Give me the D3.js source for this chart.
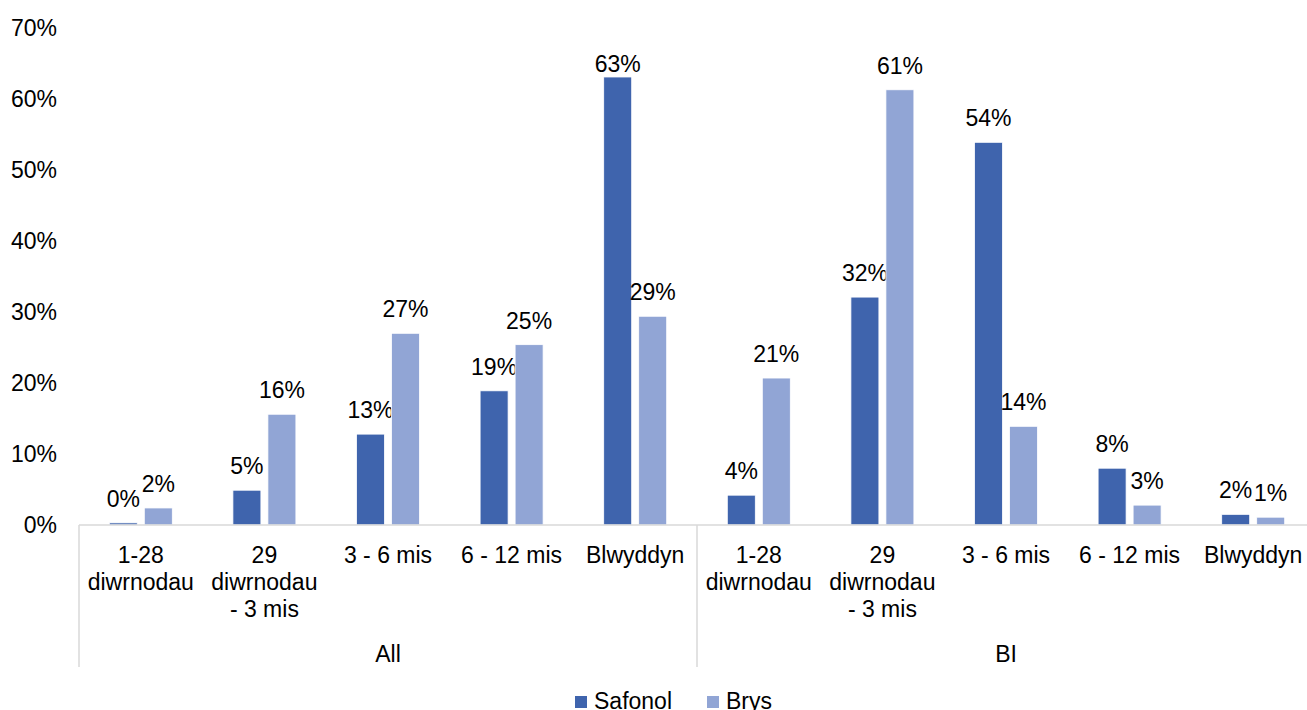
<!DOCTYPE html>
<html>
<head>
<meta charset="utf-8">
<script src="https://cdn.jsdelivr.net/npm/d3@7"></script>
<style>
  body { margin: 0; background: #fff; }
  text { font-family: "Liberation Sans", Arial, sans-serif; fill: #000; }
</style>
</head>
<body>
<script>
// data
const groups = ['All', 'BI'];
const periods = [['1-28', 'diwrnodau'], ['29', 'diwrnodau', '- 3 mis'], ['3 - 6 mis'], ['6 - 12 mis'], ['Blwyddyn']];
const seriesNames = ['Safonol', 'Brys'];
const safonol = [0.3, 4.9, 12.8, 18.9, 63.1, 4.2, 32.1, 53.9, 8.0, 1.5];
const brys = [2.4, 15.6, 27.0, 25.4, 29.4, 20.7, 61.3, 13.9, 2.8, 1.1];
const safonolLabels = ['0%', '5%', '13%', '19%', '63%', '4%', '32%', '54%', '8%', '2%'];
const brysLabels = ['2%', '16%', '27%', '25%', '29%', '21%', '61%', '14%', '3%', '1%'];
const yTicks = [0, 10, 20, 30, 40, 50, 60, 70];

const colors = ['#3f64ad', '#91a5d5'];

const width = 1307, height = 710;
const svg = d3.select('body').append('svg')
    .attr('width', width)
    .attr('height', height);

// area del grafico
const plotLeft = 79, plotRight = 1315, plotTop = 28, plotBottom = 525;

// one slot for each period in each group
const cats = [];
groups.forEach((g, gi) => periods.forEach((p, pi) => cats.push(gi * periods.length + pi)));

const x = d3.scaleBand().domain(cats).range([plotLeft, plotRight]);
const y = d3.scaleLinear().domain([0, 70]).range([plotBottom, plotTop]);

const barW = 28, gap = 7;

// y labels
svg.append('g').selectAll('text')
    .data(yTicks)
    .enter().append('text')
    .attr('x', 57)
    .attr('y', d => y(d))
    .attr('dy', '0.35em')
    .attr('text-anchor', 'end')
    .style('font-size', '23px')
    .text(d => d + '%');

// bars
const series = [safonol, brys];
const labels = [safonolLabels, brysLabels];
series.forEach((vals, si) => {
  const bx = i => x.bandwidth() / 2 + x(i) + (si === 0 ? -gap / 2 - barW : gap / 2);
  svg.append('g').selectAll('rect')
      .data(vals)
      .enter().append('rect')
      .attr('x', (d, i) => bx(i))
      .attr('y', d => y(d))
      .attr('width', barW)
      .attr('height', d => plotBottom - y(d))
      .attr('fill', colors[si])
      .attr('stroke', '#ffffff')
      .attr('stroke-width', 0.8);

  // etichette sopra le barre, tenute dentro il bordo in alto
  svg.append('g').selectAll('text')
      .data(vals)
      .enter().append('text')
      .attr('x', (d, i) => bx(i) + barW / 2)
      .attr('y', d => Math.max(y(d) - 16, 72))
      .attr('text-anchor', 'middle')
      .style('font-size', '23px')
      .text((d, i) => labels[si][i]);
});

// axis lines
const grey = '#d9d9d9';
svg.append('line')
    .attr('x1', plotLeft).attr('x2', plotRight)
    .attr('y1', plotBottom).attr('y2', plotBottom)
    .attr('stroke', grey).attr('stroke-width', 1.5);

const groupW = x.bandwidth() * periods.length;
[0, 1, 2].forEach(k => {
  svg.append('line')
      .attr('x1', plotLeft + k * groupW).attr('x2', plotLeft + k * groupW)
      .attr('y1', plotBottom).attr('y2', 667)
      .attr('stroke', grey).attr('stroke-width', 1.5);
});

// period labels
cats.forEach(i => {
  const lines = periods[i % periods.length];
  const t = svg.append('text')
      .attr('x', x(i) + x.bandwidth() / 2)
      .attr('y', 563)
      .attr('text-anchor', 'middle')
      .style('font-size', '23px');
  lines.forEach((l, li) => {
    t.append('tspan')
        .attr('x', x(i) + x.bandwidth() / 2)
        .attr('dy', li === 0 ? 0 : 27)
        .text(l);
  });
});

// group labels
groups.forEach((g, gi) => {
  svg.append('text')
      .attr('x', plotLeft + gi * groupW + groupW / 2)
      .attr('y', 662)
      .attr('text-anchor', 'middle')
      .style('font-size', '23px')
      .text(g);
});

// legend
const legendX = [575, 707];
seriesNames.forEach((n, si) => {
  svg.append('rect')
      .attr('x', legendX[si]).attr('y', 696)
      .attr('width', 12).attr('height', 12)
      .attr('fill', colors[si]);
  svg.append('text')
      .attr('x', legendX[si] + 19).attr('y', 709)
      .style('font-size', '23px')
      .text(n);
});
</script>
</body>
</html>
